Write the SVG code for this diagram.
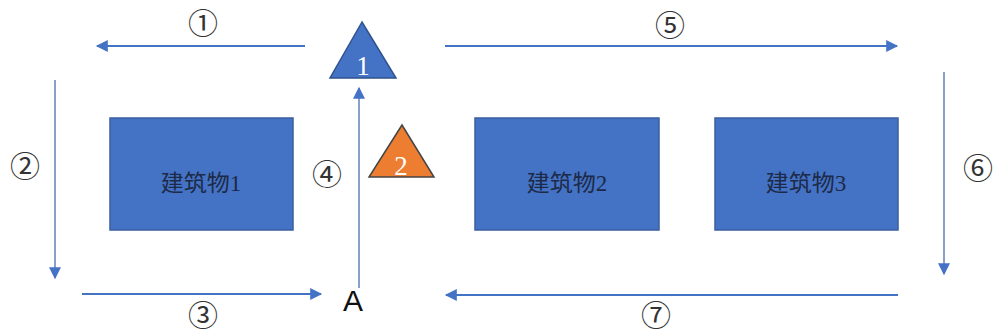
<svg xmlns="http://www.w3.org/2000/svg" width="993" height="336" viewBox="0 0 993 336">
<style>
.ln{stroke:#4472C4;stroke-width:2.2;fill:none}
.lt{stroke:#4a6fae;stroke-width:1.3;fill:none}
.bld{fill:#4472C4;stroke:#3a5f9f;stroke-width:1.5}
.bt{font-family:"Liberation Serif","Noto Sans CJK SC",serif;font-size:23px;fill:#1c2a48;text-anchor:middle}
.num{font-family:"Noto Sans CJK SC","DejaVu Sans",sans-serif;font-size:30px;fill:#333;text-anchor:middle}
.tn{font-family:"Liberation Serif",serif;font-size:27px;fill:#fff;text-anchor:middle}
</style>
<defs>
<marker id="ah" viewBox="0 0 10 10" refX="9" refY="5" markerWidth="14" markerHeight="12" markerUnits="userSpaceOnUse" orient="auto">
<path d="M0,0 L10,5 L0,10 Z" fill="#4472C4"/>
</marker>
</defs>
<g id="connectors">
<line class="ln" x1="305" y1="46" x2="97" y2="46" marker-end="url(#ah)"/>
<line class="ln" x1="445" y1="46" x2="897" y2="46" marker-end="url(#ah)"/>
<line class="lt" x1="55" y1="80" x2="55" y2="278" marker-end="url(#ah)"/>
<line class="ln" x1="82" y1="294" x2="321" y2="294" marker-end="url(#ah)"/>
<line class="lt" x1="359" y1="288" x2="359" y2="88" marker-end="url(#ah)"/>
<line class="lt" x1="944" y1="72" x2="944" y2="274" marker-end="url(#ah)"/>
<line class="ln" x1="898" y1="295" x2="446" y2="295" marker-end="url(#ah)"/>
</g>
<g id="labels">
<text class="num" x="203" y="34">①</text>
<text class="num" x="25" y="177">②</text>
<text class="num" x="203" y="326">③</text>
<text class="num" x="327" y="185">④</text>
<text class="num" x="670" y="36">⑤</text>
<text class="num" x="978" y="179">⑥</text>
<text class="num" x="656" y="326">⑦</text>
</g>
<g id="tri1">
<polygon points="362,22 330,78 396,78" fill="#4472C4" stroke="#2f528f" stroke-width="1.5"/>
<text class="tn" x="363" y="75">1</text>
</g>
<g id="tri2">
<polygon points="402,125 369,177 434,177" fill="#ED7D31" stroke="#444" stroke-width="1.5"/>
<text class="tn" x="401" y="175" fill="#fde">2</text>
</g>
<g id="b1">
<rect class="bld" x="110" y="118" width="183" height="112"/>
<text class="bt" x="201" y="191">建筑物1</text>
</g>
<g id="b2">
<rect class="bld" x="475" y="118" width="184" height="112"/>
<text class="bt" x="567" y="191">建筑物2</text>
</g>
<g id="b3">
<rect class="bld" x="715" y="118" width="183" height="112"/>
<text class="bt" x="806" y="191">建筑物3</text>
</g>
<g id="A">
<text x="353" y="311" font-family="Liberation Sans,sans-serif" font-size="30" fill="#111" text-anchor="middle">A</text>
</g>
</svg>
